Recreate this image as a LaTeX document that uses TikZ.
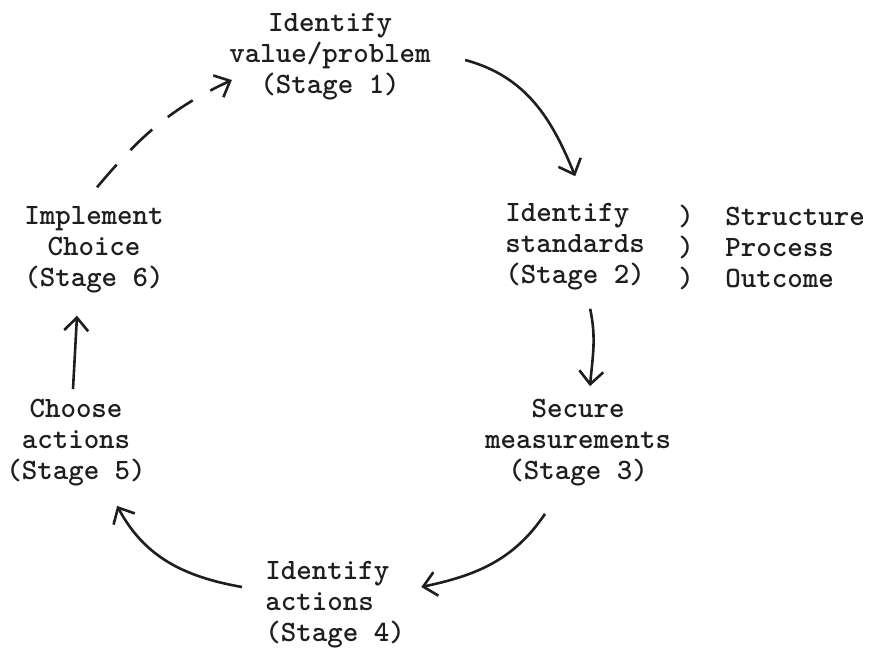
\documentclass[tikz,border=0pt]{standalone}
\usepackage{fontspec}
\usepackage{tikz}
\usetikzlibrary{arrows.meta,calc}
\definecolor{inkgray}{RGB}{30,30,30}

\begin{document}
\begin{tikzpicture}[x=0.5pt,y=0.5pt,
  stage/.style={inner sep=0pt, align=center, text=inkgray, font=\ttfamily\bfseries\fontsize{14.76}{15.5}\selectfont},
  stagel/.style={stage, align=left, anchor=west},
  conn/.style={draw=inkgray, line width=1.3pt, -{Straight Barb[length=6.5pt,width=12pt]}},
  dashconn/.style={conn, dash pattern=on 15pt off 10pt}
]
\useasboundingbox (0,0) rectangle (876,-650);

\node[stage] (st1) at (330,-57) {Identify\\value/problem\\(Stage 1)};
\node[stagel] (st2) at (505,-247) {Identify\\standards\\(Stage 2)};
\node[stage] (brk) at (686,-247) {)\\)\\)};
\node[stagel] (dims) at (725,-247) {Structure\\Process\\Outcome};
\node[stage] (st3) at (578,-443) {Secure\\measurements\\(Stage 3)};
\node[stagel] (st4) at (265,-605) {Identify\\actions\\(Stage 4)};
\node[stage] (st5) at (76,-443) {Choose\\actions\\(Stage 5)};
\node[stage] (st6) at (94,-250) {Implement\\Choice\\(Stage 6)};

\draw[conn] ($(st1.east)+(34,-3)$) to[out=-15,in=112] ($(st2.north)+(0,27)$);
\draw[conn] ($(st2.south)+(15,-18)$) to[out=-78,in=85] ($(st3.north)+(12,13)$);
\draw[conn] ($(st3.south)+(-33,-27)$) to[out=236,in=12] ($(st4.east)+(16,18)$);
\draw[conn] ($(st4.west)+(-23,18)$) to[out=170,in=-62] ($(st5.south east)+(-29,-19)$);
\draw[conn] ($(st5.north)+(-3,10)$) -- ($(st6.south)+(-17,-22)$);
\draw[dashconn] ($(st6.north)+(3,19)$) to[out=50,in=-155] ($(st1.west)+(3,-23)$);
\end{tikzpicture}
\end{document}
